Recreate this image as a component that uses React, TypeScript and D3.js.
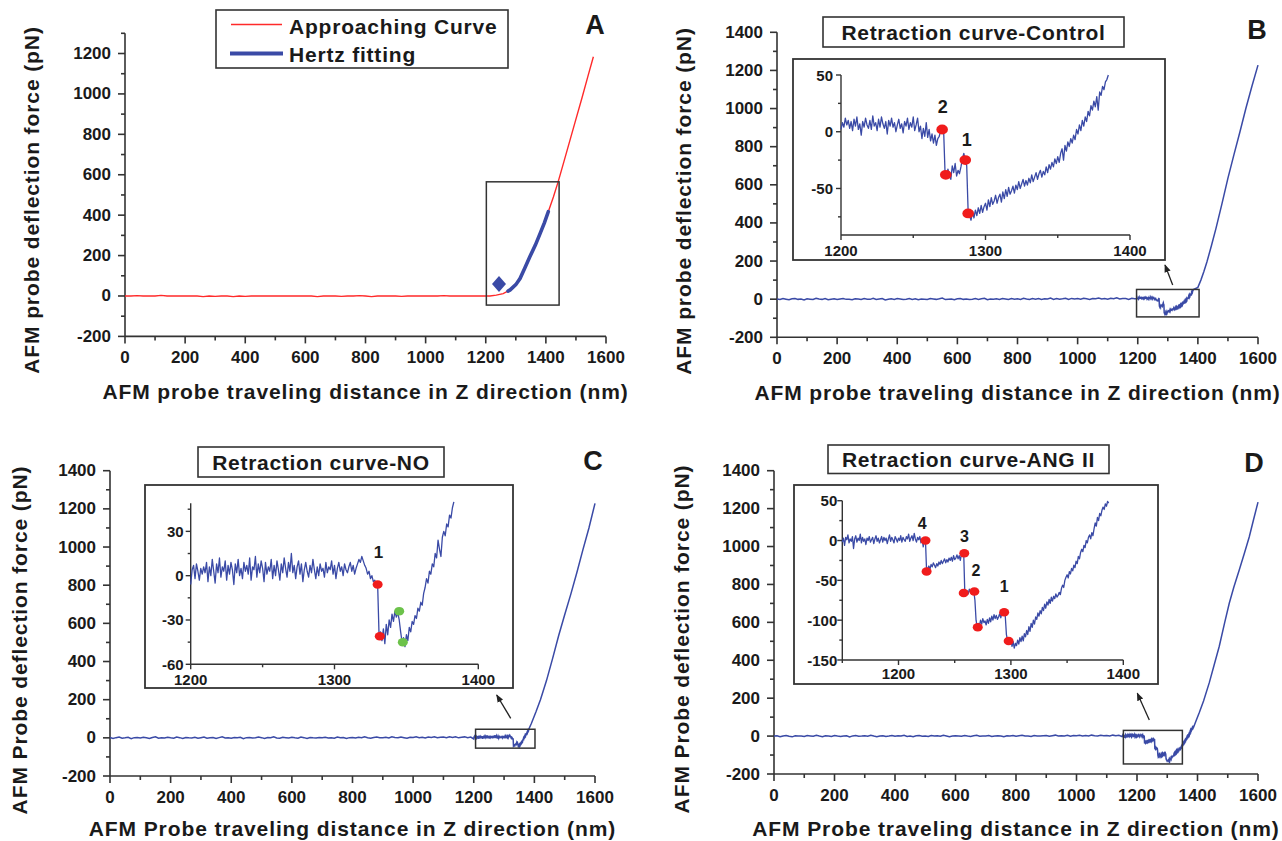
import React from "react";
import * as d3 from "d3";

type Pt = [number, number];

// ---------- tick values ----------
const mainXTicks = [0, 200, 400, 600, 800, 1000, 1200, 1400, 1600];
const yTicksA = [-200, 0, 200, 400, 600, 800, 1000, 1200];
const yTicksBCD = [-200, 0, 200, 400, 600, 800, 1000, 1200, 1400];
const insetXTicks = [1200, 1300, 1400];
const insetYTicksB = [-50, 0, 50];
const insetYTicksC = [-60, -30, 0, 30];
const insetYTicksD = [-150, -100, -50, 0, 50];

// ---------- panel A : approaching curve + Hertz fit ----------
// flat part sampled every 20 nm from 0 nm
const flatA = [0, 0, 2, 0, 0, 0, 3, 0, 0, 0, 0, 0, 0, -3, 0, -2, 0, 0, -3, 0, -2, 0, 0, 0, 0, 0, 0, 0, 0, 0,
  0, 0, -3, 0, 0, 0, -2, 0, 0, 2, 0, -3, 0, 0, 0, 0, -2, 0, 0, 0, 0, 0, 0, 2, 0, 0, 0, 0, 0, 0, 0];
const approachA: Pt[] = [[1214, 0], [1235, 4], [1258, 12], [1281, 30], [1300, 56], [1314, 86], [1330, 138],
  [1347, 195], [1365, 252], [1381, 310], [1395, 362], [1408, 417], [1425, 490], [1441, 566], [1460, 665],
  [1480, 770], [1500, 875], [1520, 980], [1540, 1088], [1558, 1184]];
const hertzA: Pt[] = [[1274, 24], [1281, 30], [1300, 56], [1314, 86], [1330, 138], [1347, 195], [1365, 252],
  [1381, 310], [1395, 362], [1408, 417]];
const markerA: Pt = [1244, 59];
const zoomBoxA = [1202, 1444, -45, 565];

// ---------- panel B : control ----------
// flat part sampled every 10 nm from 0 nm
const flatB = [1, -2, 3, 0, -3, 2, 4, -1, 1, -4, 2, 0, -2, 5, 1, -1, 3, -3, 0, 2, -2, 1, 4, -1, 0, -3, 2, 1, -2, 3,
  0, -1, 5, -2, 1, 3, -4, 0, 2, -1, 3, 1, -2, 0, 4, -1, 2, -3, 1, 0, -2, 3, 1, -1, 2, 6, -2, 0, 1, -3,
  2, 4, -1, 1, -2, 0, 3, -1, 2, 5, -3, 1, 0, 2, -1, 4, 1, -2, 3, 0, 2, -1, 5, 1, -2, 3, 0, 4, -1, 2,
  1, 6, -1, 3, 0, 2, 5, -2, 4, 1, 3, 0, 5, 2, -1, 4, 2, 6, 1, 3, 0, 5, 2, 7, 1, 4, 3, -1, 5, 2];
// rupture region sampled every 1 nm from 1200 nm
const insetB = [2, 8, 4, 12, 6, 10, 3, 9, 1, 11, 5, 13, 2, 7, -3, 9, 4, 12, 6, 3,
  10, 2, 14, 5, 8, 1, 11, 4, 13, 7, 3, 9, -2, 10, 5, 12, 4, 8, 0, 6,
  11, 3, 7, -1, 9, 5, 12, 2, 8, 4, 13, 1, 6, 12, 0, 5, -6, 3, -4, 8,
  -5, 2, -8, -2, -10, -3, -12, -6, -4, 1, 3, 2, -36, -40, -33, -38, -42, -30, -36, -28,
  -39, -34, -37, -31, -24, -19, -25, -30, -71, -74, -78, -70, -76, -69, -74, -67, -72, -65, -71, -66,
  -63, -69, -60, -66, -58, -64, -61, -56, -63, -58, -55, -62, -53, -59, -51, -57, -49, -55, -52, -48,
  -54, -47, -51, -44, -50, -46, -42, -48, -43, -47, -41, -45, -38, -44, -40, -36, -42, -37, -34, -40,
  -35, -38, -31, -36, -29, -33, -27, -31, -24, -28, -22, -27, -19, -15, -25, -12, -17, -9, -13, -6,
  -10, -3, -7, 2, -2, 6, 1, 10, 5, 13, 9, 18, 14, 23, 19, 27, 22, 31, 19, 35,
  32, 40, 37, 44, 46, 50];
const riseB: Pt[] = [[1400, 62], [1410, 100], [1420, 145], [1430, 195], [1445, 280], [1460, 370], [1480, 500],
  [1500, 635], [1520, 758], [1540, 878], [1560, 1003], [1580, 1118], [1600, 1228]];
const dotsB: Pt[] = [[1270, 2], [1272.5, -38], [1286, -25], [1288, -72]];
const peakLabelsB = [{ t: "2", x: 1270.5, y: 22 }, { t: "1", x: 1287, y: -7 }];
const zoomBoxB = [1196, 1404, -93, 51];

// ---------- panel C : NO ----------
const flatC = [2, -3, 1, 4, -2, 0, 3, -4, 1, 2, -1, 3, 0, -3, 2, 5, -2, 1, -1, 3, 0, -2, 4, 1, -3, 2, 0, -1, 3, -2,
  1, 4, -2, 0, 2, -3, 1, 5, -1, 0, -2, 2, 0, 3, -4, 1, 2, -1, 0, 4, 1, -3, 2, 0, 5, -1, -2, 3, 1, -1,
  3, 0, -2, 4, 1, -3, 2, 0, -1, 2, 0, 3, -1, 1, -2, 4, 0, 2, -3, 1, 2, -1, 3, 0, 5, 1, -2, 2, 4, 0,
  1, 3, -1, 5, 2, 0, 4, 1, -2, 3, 2, 6, 1, 3, -1, 4, 2, 5, 0, 3, 4, 1, 5, 2, 6, 0, 3, 5, 1, 4];
const insetC = [-6, 4, 7, -2, 8, 3, -3, 5, 1, 6, 2, 9, -4, 6, 0, 11, 3, -5, 8, 2,
  12, -1, 6, 3, 10, -3, 7, 1, 9, 4, -6, 8, 2, 11, 0, 5, -2, 9, 3, 7,
  1, 12, -3, 6, 4, 13, -1, 8, 2, 10, 5, -4, 9, 1, 6, 3, 11, -2, 7, 0,
  10, 4, -3, 8, 2, 12, 5, -1, 9, 3, 15, 2, 7, -2, 6, 10, 1, 8, -4, 4,
  9, 3, -1, 7, 2, 11, 4, -2, 6, 0, 8, 3, 5, -1, 9, 2, 6, 4, 10, 1,
  7, -2, 5, 9, 3, 6, 0, 8, 4, 2, 6, 9, 3, 7, 1, 5, 8, 11, 9, 13,
  10, 7, 5, 1, 3, -2, 0, -4, -3, -6, -6, -41, -38, -44, -36, -46, -33, -40, -30, -35,
  -26, -31, -24, -28, -25, -30, -38, -45, -42, -48, -40, -44, -35, -38, -31, -33, -27, -29, -22, -24,
  -18, -20, -12, -8, -2, -5, 3, 1, 8, 6, 15, 12, 24, 18, 13, 26, 30, 27, 35, 33,
  41, 39, 46, 50];
const riseC: Pt[] = [[1390, 75], [1405, 135], [1420, 200], [1440, 300], [1460, 415], [1480, 535], [1500, 645],
  [1520, 752], [1540, 865], [1560, 985], [1580, 1100], [1600, 1229]];
const redDotsC: Pt[] = [[1330, -6], [1331.5, -41]];
const greenDotsC: Pt[] = [[1345, -24], [1347.5, -45]];
const peakLabelsC = [{ t: "1", x: 1330.6, y: 16 }];
const zoomBoxC = [1206, 1402, -54, 45];

// ---------- panel D : ANG II ----------
const flatD = [0, 2, -3, 1, 3, -1, -4, 2, 0, 1, -2, 3, 1, -1, 4, 0, -3, 2, 1, -2, 3, 0, -2, 1, 2, -4, 1, 3, -1, 0,
  2, -1, 4, 0, -3, 1, 2, -2, 0, 3, -1, 2, 0, 4, -2, 1, -3, 2, 3, -1, 1, -2, 3, 0, 2, -1, 4, 1, -3, 0,
  2, 1, -1, 3, 0, -2, 2, 4, -1, 1, 0, 3, -2, 1, 2, 0, -3, 2, 1, 3, -1, 2, 4, 0, 1, -2, 3, 1, 0, 2,
  3, -1, 2, 5, 0, 2, 1, 4, -1, 3, 2, 4, 1, 3, 0, 5, 2, 1, 4, 2, 3, 1, 5, 2, 4];
// rupture region sampled every 1 nm from 1150 nm
const insetD = [-2, 3, -6, 4, 1, 7, -3, 2, -1, 5, -10, 2, 6, -2, 3, 0, 8, -3, 4, -1,
  2, -5, 3, 0, 5, -2, 1, 4, -4, 2, 6, -1, 3, -3, 1, 5, -2, 4, 0, 3,
  -4, 2, 7, -1, 4, 1, -3, 5, 2, -2, 3, 0, 6, -2, 4, 1, -1, 5, 2, 8,
  -1, 3, 6, 0, 9, 2, -2, 4, 1, 5, -3, 2, -8, 1, 0, -39, -35, -32, -36, -30,
  -33, -28, -31, -34, -29, -32, -27, -30, -25, -29, -26, -23, -28, -24, -27, -22, -25, -21, -26, -19,
  -24, -22, -18, -23, -19, -25, -17, -20, -15, -66, -68, -63, -67, -61, -65, -62, -63, -64, -75, -100,
  -108, -104, -107, -100, -105, -98, -103, -101, -106, -99, -104, -97, -102, -95, -100, -93, -98, -94, -99, -96,
  -92, -97, -91, -94, -90, -95, -118, -125, -126, -130, -124, -133, -127, -135, -129, -132, -125, -130, -122, -127,
  -120, -126, -117, -121, -113, -118, -108, -114, -104, -109, -100, -105, -96, -99, -91, -95, -88, -92, -84, -88,
  -80, -85, -77, -81, -74, -79, -71, -76, -70, -73, -67, -71, -69, -65, -68, -60, -56, -59, -50, -46,
  -43, -47, -39, -42, -35, -38, -31, -34, -26, -29, -20, -23, -15, -11, -14, -6, -9, 0, -3, 4,
  7, 2, 10, 6, 15, 22, 18, 29, 25, 34, 31, 38, 42, 39, 46, 43, 49, 47];
const riseD: Pt[] = [[1395, 80], [1406, 124], [1420, 185], [1439, 282], [1455, 375], [1472, 474], [1490, 600],
  [1505, 701], [1520, 785], [1538, 876], [1555, 965], [1571, 1050], [1585, 1140], [1600, 1234]];
const dotsD: Pt[] = [[1224, 0], [1225, -39], [1258.5, -16], [1258, -66], [1267.5, -64], [1270.5, -109],
  [1294, -90], [1298, -126]];
const peakLabelsD = [{ t: "4", x: 1221, y: 22 }, { t: "3", x: 1258.6, y: 5 }, { t: "2", x: 1269, y: -38 },
  { t: "1", x: 1294, y: -58 }];
const zoomBoxD = [1155, 1350, -147, 30];

// ---------- helpers ----------
const seq = (x0: number, dx: number, ys: number[]): Pt[] => ys.map((y, i) => [x0 + i * dx, y] as Pt);

const traceA = [...seq(0, 20, flatA), ...approachA];
const insetTraceB = seq(1200, 1, insetB);
const traceB = [...seq(0, 10, flatB), ...insetTraceB, ...riseB];
const insetTraceC = seq(1200, 1, insetC);
const traceC = [...seq(0, 10, flatC), ...insetTraceC, ...riseC];
const insetTraceD = seq(1150, 1, insetD);
const traceD = [...seq(0, 10, flatD), ...insetTraceD, ...riseD];

const FONT = "'Liberation Sans', Arial, Helvetica, sans-serif";
const BLUE = "#3a4aa6";
const RED = "#ff2a2a";
const INK = "#1a1a1a";
const AXIS = "#333";

type Scale = d3.ScaleLinear<number, number>;

function Axes(p: {
  xs: Scale; ys: Scale; xTicks: number[]; yTicks: number[]; xMinor: number[]; yMinor: number[];
  size: number; major: number; minor: number; yGap: number; xDy: number; sw: number;
}) {
  const [x0, x1] = p.xs.range();
  const [yb, yt] = p.ys.range();
  const xm = p.xMinor.filter(v => !p.xTicks.includes(v));
  const ym = p.yMinor.filter(v => !p.yTicks.includes(v));
  return (
    <g>
      <g stroke={AXIS} strokeWidth={p.sw} fill="none">
        <line x1={x0} y1={yb} x2={x1} y2={yb} />
        <line x1={x0} y1={yb} x2={x0} y2={yt} />
        {xm.map(v => <line key={"xm" + v} x1={p.xs(v)} x2={p.xs(v)} y1={yb} y2={yb + p.minor} />)}
        {p.xTicks.map(v => <line key={"xM" + v} x1={p.xs(v)} x2={p.xs(v)} y1={yb} y2={yb + p.major} />)}
        {ym.map(v => <line key={"ym" + v} x1={x0} x2={x0 - p.minor} y1={p.ys(v)} y2={p.ys(v)} />)}
        {p.yTicks.map(v => <line key={"yM" + v} x1={x0} x2={x0 - p.major} y1={p.ys(v)} y2={p.ys(v)} />)}
      </g>
      <g fill={INK} fontSize={p.size} fontWeight="bold" fontFamily={FONT}>
        {p.xTicks.map(v => (
          <text key={"xl" + v} x={p.xs(v)} y={yb + p.xDy} textAnchor="middle" dominantBaseline="central">{v}</text>
        ))}
        {p.yTicks.map(v => (
          <text key={"yl" + v} x={x0 - p.yGap} y={p.ys(v)} textAnchor="end" dominantBaseline="central">{v}</text>
        ))}
      </g>
    </g>
  );
}

function MainAxes({ xs, ys, yTicks }: { xs: Scale; ys: Scale; yTicks: number[] }) {
  const [lo, hi] = ys.domain();
  return (
    <Axes xs={xs} ys={ys} xTicks={mainXTicks} yTicks={yTicks} xMinor={d3.range(0, 1601, 100)}
      yMinor={d3.range(lo, hi + 1, 100)} size={17} major={7} minor={4} yGap={14} xDy={21} sw={1.6} />
  );
}

function Titles({ cx, xy, yx, cy, probe }: { cx: number; xy: number; yx: number; cy: number; probe: string }) {
  return (
    <g fill={INK} fontSize={21} fontWeight="bold" fontFamily={FONT} style={{ letterSpacing: "0.9px" }}>
      <text x={cx} y={xy} textAnchor="middle" dominantBaseline="central">
        {`AFM ${probe} traveling distance in Z direction (nm)`}
      </text>
      <text transform={`translate(${yx},${cy}) rotate(-90)`} textAnchor="middle" dominantBaseline="central">
        {`AFM ${probe} deflection force (pN)`}
      </text>
    </g>
  );
}

function ZoomRect({ xs, ys, b }: { xs: Scale; ys: Scale; b: number[] }) {
  return (
    <rect x={xs(b[0])} y={ys(b[3])} width={xs(b[1]) - xs(b[0])} height={ys(b[2]) - ys(b[3])}
      fill="none" stroke={AXIS} strokeWidth={1.5} />
  );
}

function TitleBox({ x0, x1, y0, y1, text }: { x0: number; x1: number; y0: number; y1: number; text: string }) {
  return (
    <g>
      <rect x={x0} y={y0} width={x1 - x0} height={y1 - y0} fill="#fff" stroke={AXIS} strokeWidth={1.6} />
      <text x={(x0 + x1) / 2} y={(y0 + y1) / 2} textAnchor="middle" dominantBaseline="central" fill={INK}
        fontSize={21} fontWeight="bold" fontFamily={FONT} style={{ letterSpacing: "0.7px" }}>{text}</text>
    </g>
  );
}

function Letter({ x, y, t }: { x: number; y: number; t: string }) {
  return (
    <text x={x} y={y} textAnchor="middle" dominantBaseline="central" fill={INK} fontSize={27}
      fontWeight="bold" fontFamily={FONT}>{t}</text>
  );
}

function Arrow({ x1, y1, x2, y2 }: { x1: number; y1: number; x2: number; y2: number }) {
  return <line x1={x1} y1={y1} x2={x2} y2={y2} stroke="#222" strokeWidth={1.3} markerEnd="url(#head)" />;
}

function Inset(p: {
  box: [number, number, number, number]; xs: Scale; ys: Scale; xTicks: number[]; yTicks: number[];
  xMinor: number[]; yMinor: number[]; trace: Pt[]; red: Pt[]; green?: Pt[];
  labels: { t: string; x: number; y: number }[]; labelSize: number; yGap: number; xDy: number; dot: number;
}) {
  const line = d3.line<Pt>().x(d => p.xs(d[0])).y(d => p.ys(d[1]));
  const [bx0, by0, bx1, by1] = p.box;
  return (
    <g>
      <rect x={bx0} y={by0} width={bx1 - bx0} height={by1 - by0} fill="#fff" stroke={AXIS} strokeWidth={1.8} />
      <Axes xs={p.xs} ys={p.ys} xTicks={p.xTicks} yTicks={p.yTicks} xMinor={p.xMinor} yMinor={p.yMinor}
        size={15} major={5} minor={3} yGap={p.yGap} xDy={p.xDy} sw={1.4} />
      <path d={line(p.trace) || ""} fill="none" stroke={BLUE} strokeWidth={1.3} strokeLinejoin="round" />
      {p.red.map((d, i) => (
        <ellipse key={"r" + i} cx={p.xs(d[0])} cy={p.ys(d[1])} rx={p.dot} ry={p.dot * 0.85} fill="#f01c1c" />
      ))}
      {(p.green || []).map((d, i) => (
        <ellipse key={"g" + i} cx={p.xs(d[0])} cy={p.ys(d[1])} rx={p.dot} ry={p.dot * 0.85} fill="#6cc24a" />
      ))}
      {p.labels.map((l, i) => (
        <text key={"l" + i} x={p.xs(l.x)} y={p.ys(l.y)} textAnchor="middle" dominantBaseline="central"
          fill={INK} fontSize={p.labelSize} fontWeight="bold" fontFamily={FONT}>{l.t}</text>
      ))}
    </g>
  );
}

export default function App() {
  // ----- scales (main panels) -----
  const xA = d3.scaleLinear().domain([0, 1600]).range([125, 606]);
  const yA = d3.scaleLinear().domain([-200, 1300]).range([336.4, 33.3]);
  const xB = d3.scaleLinear().domain([0, 1600]).range([777, 1258]);
  const yB = d3.scaleLinear().domain([-200, 1400]).range([337.3, 32.3]);
  const xC = d3.scaleLinear().domain([0, 1600]).range([110, 595]);
  const yC = d3.scaleLinear().domain([-200, 1400]).range([776, 470.7]);
  const xD = d3.scaleLinear().domain([0, 1600]).range([774, 1258]);
  const yD = d3.scaleLinear().domain([-200, 1400]).range([774, 470.7]);

  // ----- scales (insets) -----
  const ixB = d3.scaleLinear().domain([1200, 1400]).range([841, 1130]);
  const iyB = d3.scaleLinear().domain([-91, 50]).range([235, 75]);
  const ixC = d3.scaleLinear().domain([1200, 1400]).range([190.7, 478.3]);
  const iyC = d3.scaleLinear().domain([-60, 49]).range([664.3, 503.3]);
  const ixD = d3.scaleLinear().domain([1150, 1400]).range([842.3, 1123.3]);
  const iyD = d3.scaleLinear().domain([-150, 50]).range([660, 500.7]);

  const path = (xs: Scale, ys: Scale, pts: Pt[]) => d3.line<Pt>().x(d => xs(d[0])).y(d => ys(d[1]))(pts) || "";

  const dA = [xA(markerA[0]), yA(markerA[1])];

  return (
    <svg width={1282} height={841} viewBox="0 0 1282 841"
      style={{ position: "absolute", left: 0, top: 0, background: "#fff", display: "block" }}>
      <defs>
        <marker id="head" viewBox="0 0 10 10" refX="9" refY="5" markerWidth="8" markerHeight="8"
          markerUnits="userSpaceOnUse" orient="auto">
          <path d="M0,1 L10,5 L0,9 z" fill="#222" />
        </marker>
      </defs>
      <rect x={0} y={0} width={1282} height={841} fill="#fff" />

      {/* ---------------- A ---------------- */}
      <MainAxes xs={xA} ys={yA} yTicks={yTicksA} />
      <path d={path(xA, yA, traceA)} fill="none" stroke={RED} strokeWidth={1.4} />
      <path d={path(xA, yA, hertzA)} fill="none" stroke={BLUE} strokeWidth={3.6} strokeLinecap="round" />
      <path d={`M${dA[0]},${dA[1] - 8} L${dA[0] + 7},${dA[1]} L${dA[0]},${dA[1] + 8} L${dA[0] - 7},${dA[1]} Z`}
        fill={BLUE} />
      <ZoomRect xs={xA} ys={yA} b={zoomBoxA} />
      <g>
        <rect x={216} y={10} width={292} height={58} fill="#fff" stroke={AXIS} strokeWidth={1.6} />
        <line x1={231} x2={282} y1={24.5} y2={24.5} stroke={RED} strokeWidth={1.6} />
        <line x1={230} x2={283} y1={53.5} y2={53.5} stroke={BLUE} strokeWidth={4} />
        <g fill={INK} fontSize={21} fontWeight="bold" fontFamily={FONT} style={{ letterSpacing: "0.8px" }}>
          <text x={289} y={26} dominantBaseline="central">Approaching Curve</text>
          <text x={289} y={54} dominantBaseline="central">Hertz fitting</text>
        </g>
      </g>
      <Letter x={595} y={25} t="A" />
      <Titles cx={365.5} xy={391} yx={31} cy={200} probe="probe" />

      {/* ---------------- B ---------------- */}
      <MainAxes xs={xB} ys={yB} yTicks={yTicksBCD} />
      <path d={path(xB, yB, traceB)} fill="none" stroke={BLUE} strokeWidth={1.5} />
      <ZoomRect xs={xB} ys={yB} b={zoomBoxB} />
      <Arrow x1={1172.7} y1={285} x2={1165} y2={265} />
      <TitleBox x0={823} x1={1124} y0={17} y1={47} text="Retraction curve-Control" />
      <Inset box={[793, 59, 1165, 260]} xs={ixB} ys={iyB} xTicks={insetXTicks} yTicks={insetYTicksB}
        xMinor={d3.range(1200, 1401, 50)} yMinor={d3.range(-75, 51, 25)} trace={insetTraceB} red={dotsB}
        labels={peakLabelsB} labelSize={18} yGap={8} xDy={15} dot={5.8} />
      <Letter x={1257} y={30} t="B" />
      <Titles cx={1017.5} xy={392} yx={683} cy={201} probe="probe" />

      {/* ---------------- C ---------------- */}
      <MainAxes xs={xC} ys={yC} yTicks={yTicksBCD} />
      <path d={path(xC, yC, traceC)} fill="none" stroke={BLUE} strokeWidth={1.5} />
      <ZoomRect xs={xC} ys={yC} b={zoomBoxC} />
      <Arrow x1={510.7} y1={718.3} x2={496.7} y2={695} />
      <TitleBox x0={198} x1={444} y0={447} y1={477} text="Retraction curve-NO" />
      <Inset box={[145, 485, 513, 688]} xs={ixC} ys={iyC} xTicks={insetXTicks} yTicks={insetYTicksC}
        xMinor={d3.range(1200, 1401, 50)} yMinor={d3.range(-60, 50, 15)} trace={insetTraceC} red={redDotsC}
        green={greenDotsC} labels={peakLabelsC} labelSize={17} yGap={7} xDy={15} dot={5} />
      <Letter x={593} y={461} t="C" />
      <Titles cx={352.5} xy={828} yx={19} cy={640} probe="Probe" />

      {/* ---------------- D ---------------- */}
      <MainAxes xs={xD} ys={yD} yTicks={yTicksBCD} />
      <path d={path(xD, yD, traceD)} fill="none" stroke={BLUE} strokeWidth={1.5} />
      <ZoomRect xs={xD} ys={yD} b={zoomBoxD} />
      <Arrow x1={1149.3} y1={720} x2={1137.3} y2={693.3} />
      <TitleBox x0={828} x1={1109} y0={445} y1={473.5} text="Retraction curve-ANG II" />
      <Inset box={[794, 485, 1158, 684]} xs={ixD} ys={iyD} xTicks={insetXTicks} yTicks={insetYTicksD}
        xMinor={d3.range(1150, 1401, 50)} yMinor={d3.range(-150, 51, 25)} trace={insetTraceD} red={dotsD}
        labels={peakLabelsD} labelSize={16} yGap={5} xDy={13} dot={5} />
      <Letter x={1254} y={463} t="D" />
      <Titles cx={1016} xy={828} yx={681} cy={639} probe="Probe" />
    </svg>
  );
}
